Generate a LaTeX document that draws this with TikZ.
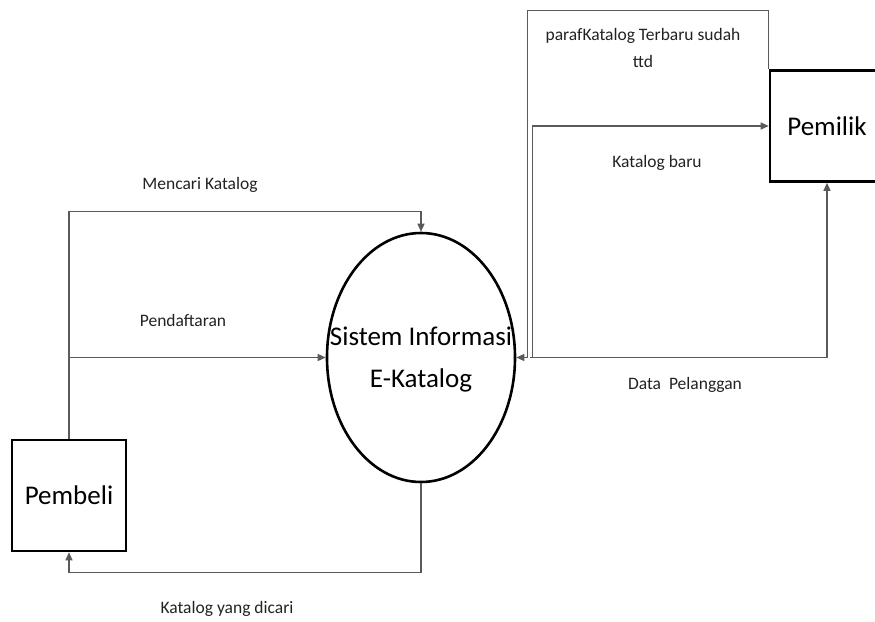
\documentclass[tikz,border=0pt]{standalone}
\usepackage{fontspec}
\setmainfont{Carlito}
\usetikzlibrary{arrows.meta,shapes.geometric}
\definecolor{flowgray}{HTML}{5A5A5A}
\definecolor{labelgray}{HTML}{222222}
\tikzset{
  entity/.style={draw=black, line width=2.6pt, minimum width=114pt, minimum height=111pt,
    inner sep=0pt, font=\fontsize{27}{32}\selectfont},
  process/.style={draw=black, line width=2.6pt, ellipse, minimum width=188pt, minimum height=249pt,
    inner sep=0pt},
  proctext/.style={align=center, inner sep=0pt, font=\fontsize{27}{42}\selectfont},
  flow/.style={draw=flowgray, line width=1.3pt, -{Triangle[length=8pt,width=7pt]}},
  flowlabel/.style={text=labelgray, font=\fontsize{17.5}{27}\selectfont, align=center, inner sep=0pt}
}
\begin{document}
\begin{tikzpicture}[x=1pt,y=-1pt]
  \useasboundingbox (0,0) rectangle (875,621);
  % external entities and the process
  \node[entity] (pembeli) at (69,495.5) {Pembeli};
  \node[entity] (pemilik) at (827,126) {Pemilik};
  \node[process] (sys) at (421,357.5) {};
  \node[proctext] (systext) at ([yshift=-2pt]sys.center) {Sistem Informasi\\E-Katalog};

  % flows between Pembeli and the system
  \draw[flow] (pembeli.north) -- ++(0,-227) -| (sys.north);
  \draw[flow] (pembeli.north |- sys.west) -- (sys.west);
  \draw[flow] (sys.south) -- ++(0,89) -| (pembeli.south);

  % flows between the system and Pemilik
  \draw[flow] (pemilik.north west) -- ++(0,-59) -| ([xshift=11pt]sys.east) -- (sys.east);
  \draw[flow] ([xshift=16pt]sys.east) |- (pemilik.west);
  \draw[flow] ([xshift=14pt]sys.east) -| (pemilik.south);

  % flow labels
  \node[flowlabel] (l1) at (200,185) {Mencari Katalog};
  \node[flowlabel] (l2) at (183,320) {Pendaftaran};
  \node[flowlabel] (l3) at (227,609) {Katalog yang dicari};
  \node[flowlabel] (l4) at (643,48) {parafKatalog Terbaru sudah\\ttd};
  \node[flowlabel] (l5) at (657,163) {Katalog baru};
  \node[flowlabel] (l6) at (685,385) {Data~~Pelanggan};
\end{tikzpicture}
\end{document}
